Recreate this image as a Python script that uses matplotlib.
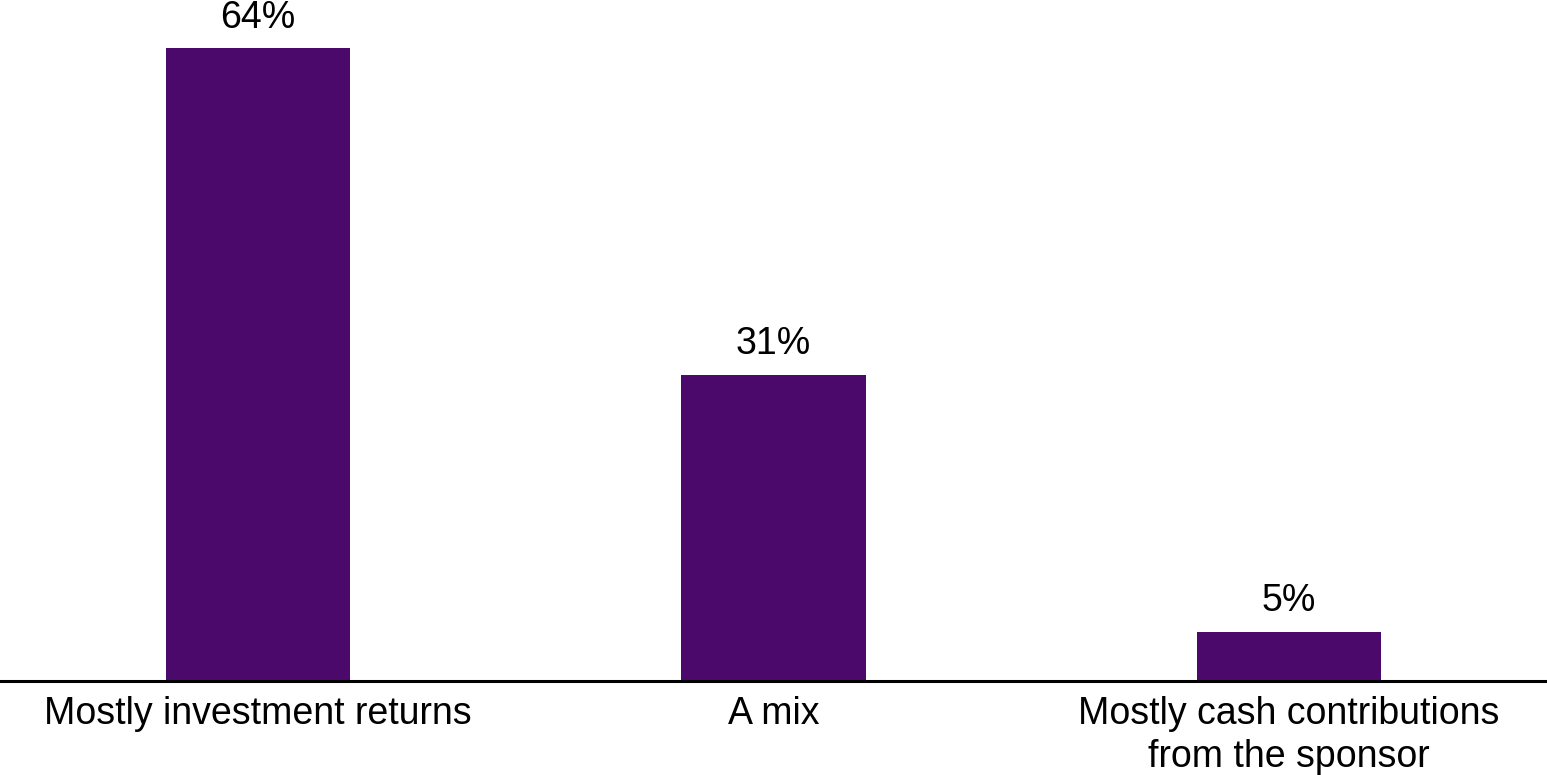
import matplotlib
matplotlib.use("Agg")
import matplotlib.pyplot as plt

categories = ["Mostly investment returns", "A mix", "Mostly cash contributions\nfrom the sponsor"]
shares = [64, 31, 5]
bar_color = "#4b0a6b"

plt.rcParams["font.family"] = ["Liberation Sans", "DejaVu Sans"]

fig = plt.figure(figsize=(15.47, 7.75), dpi=100)
ax = fig.add_axes([0, 94 / 775, 1, 681 / 775])

x = range(len(categories))
bars = ax.bar(x, shares, width=0.357, color=bar_color)
for b, v in zip(bars, shares):
    ax.text(b.get_x() + b.get_width() / 2, v + 1.3, f"{v}%",
            ha="center", va="bottom", fontsize=27)

ax.set_xlim(-0.5, 2.5)
ax.set_ylim(0, 68.9)
ax.set_xticks(list(x))
ax.set_xticklabels(categories, fontsize=27, linespacing=1.25)
ax.tick_params(axis="x", length=0, pad=11)
ax.set_yticks([])
for side in ["top", "right", "left"]:
    ax.spines[side].set_visible(False)
ax.spines["bottom"].set_linewidth(2.2)
ax.spines["bottom"].set_color("black")

fig.savefig("out.png", dpi=100)
